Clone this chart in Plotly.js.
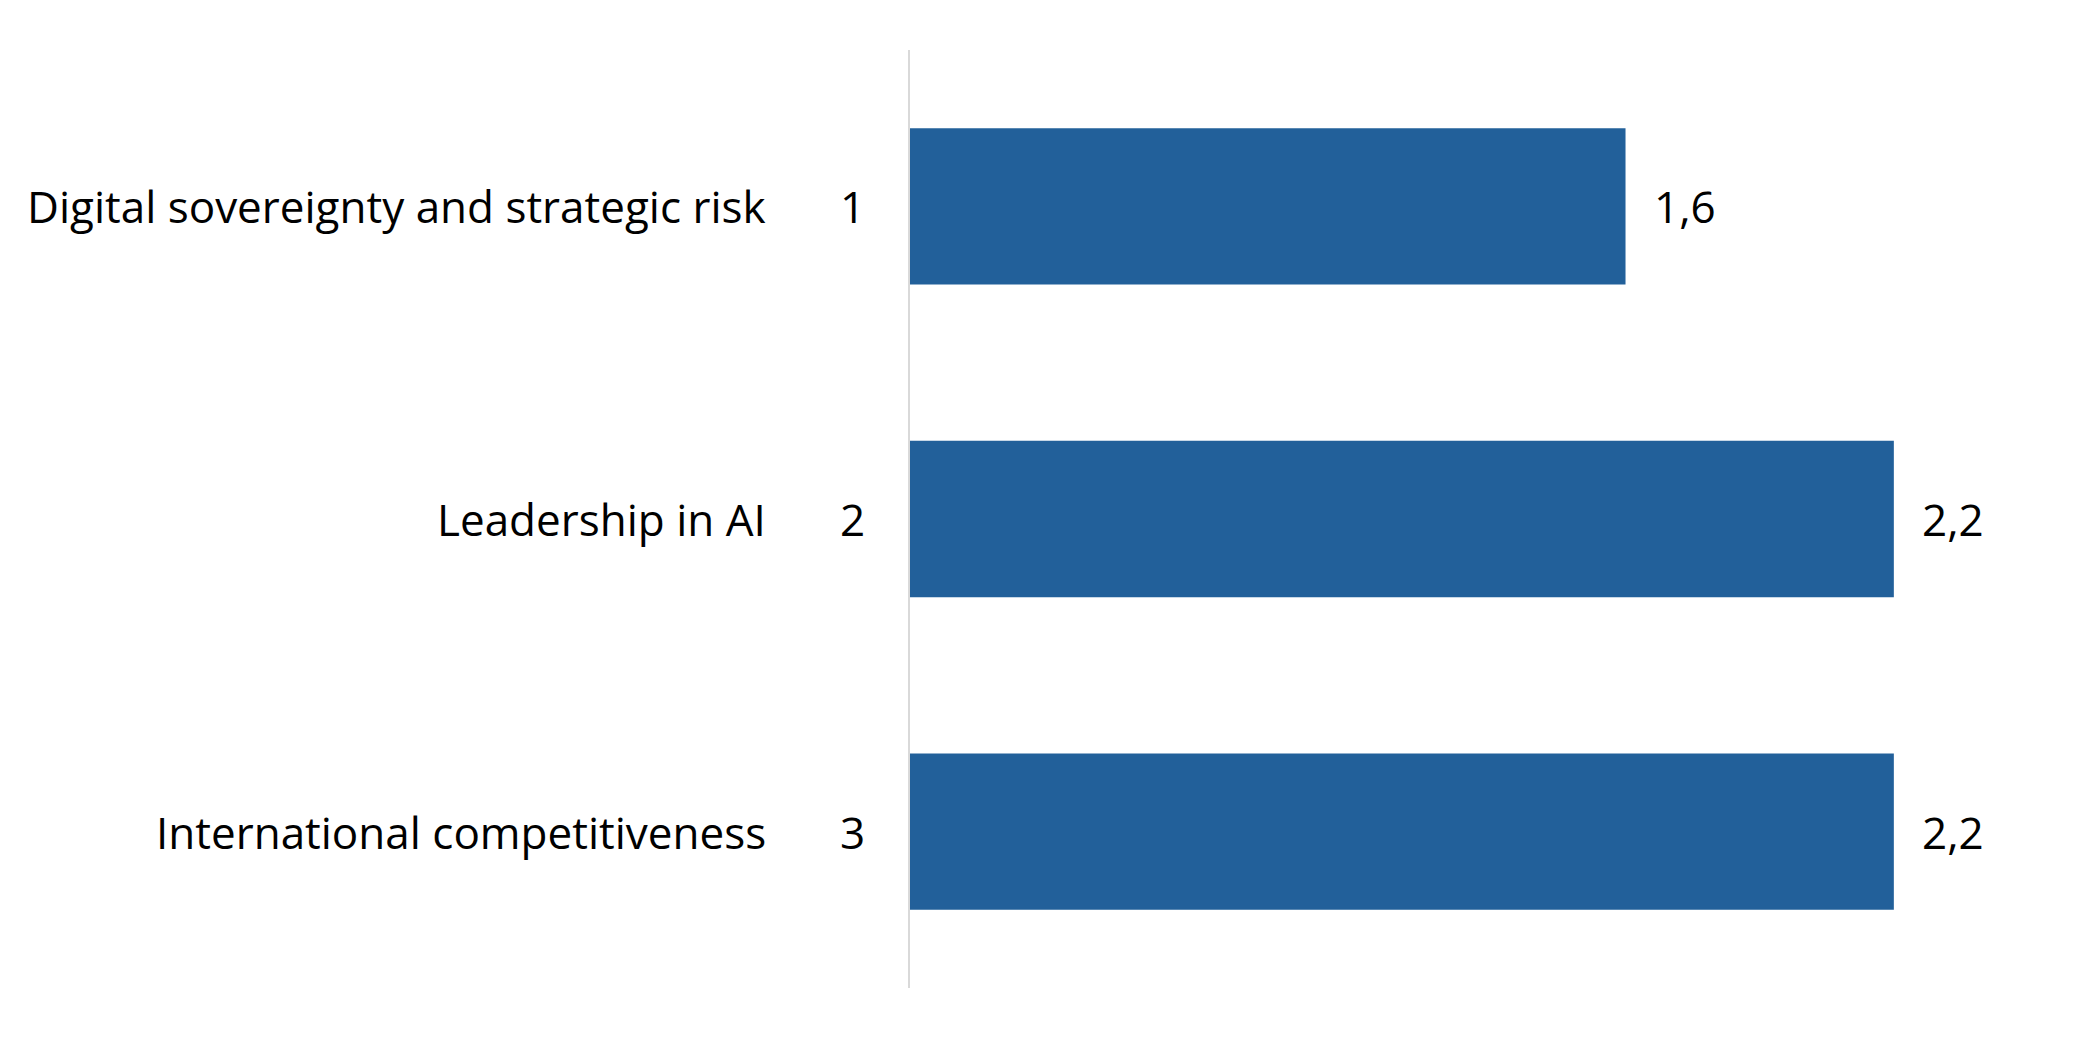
<!DOCTYPE html>
<html>
<head>
<meta charset="utf-8">
<script src="https://cdn.plot.ly/plotly-3.0.1.min.js"></script>
<style>html,body{margin:0;padding:0;background:#fff;}#chart{width:2079px;height:1039px;}</style>
</head>
<body>
<div id="chart"></div>
<script>
const categories = ["Digital sovereignty and strategic risk", "Leadership in AI", "International competitiveness"];
const ranks = ["1", "2", "3"];
const values = [1.6, 2.2, 2.2];
const valueLabels = ["1,6", "2,2", "2,2"];

const FONT = "'Open Sans', Lato, sans-serif";
const FSIZE = 44;
const barColor = "#22609A";

const trace = {
  type: "bar",
  orientation: "h",
  x: values,
  y: categories,
  marker: { color: barColor },
  hoverinfo: "skip",
  showlegend: false
};

const annotations = [];
categories.forEach((c, i) => {
  annotations.push({
    xref: "paper", yref: "y", x: 0, y: c,
    xanchor: "right", yanchor: "middle", xshift: -142,
    text: c, showarrow: false,
    font: { family: FONT, size: FSIZE, color: "#000" }
  });
  annotations.push({
    xref: "paper", yref: "y", x: 0, y: c,
    xanchor: "center", yanchor: "middle", xshift: -58,
    text: ranks[i], showarrow: false,
    font: { family: FONT, size: FSIZE, color: "#000" }
  });
  annotations.push({
    xref: "x", yref: "y", x: values[i], y: c,
    xanchor: "left", yanchor: "middle", xshift: 26,
    text: valueLabels[i], showarrow: false,
    font: { family: FONT, size: FSIZE, color: "#000" }
  });
});

const layout = {
  width: 2079, height: 1039,
  margin: { l: 910, r: 51, t: 50, b: 51, pad: 0 },
  paper_bgcolor: "#fff", plot_bgcolor: "#fff",
  bargap: 0.5,
  xaxis: { range: [0, 2.5], showgrid: false, zeroline: false, showticklabels: false, showline: false, fixedrange: true },
  yaxis: { autorange: "reversed", type: "category", showgrid: false, zeroline: false, showticklabels: false,
           showline: true, linecolor: "#D9D9D9", linewidth: 2, ticks: "", fixedrange: true },
  annotations: annotations,
  font: { family: FONT }
};

Plotly.newPlot("chart", [trace], layout, { displayModeBar: false, staticPlot: true });
</script>
</body>
</html>
